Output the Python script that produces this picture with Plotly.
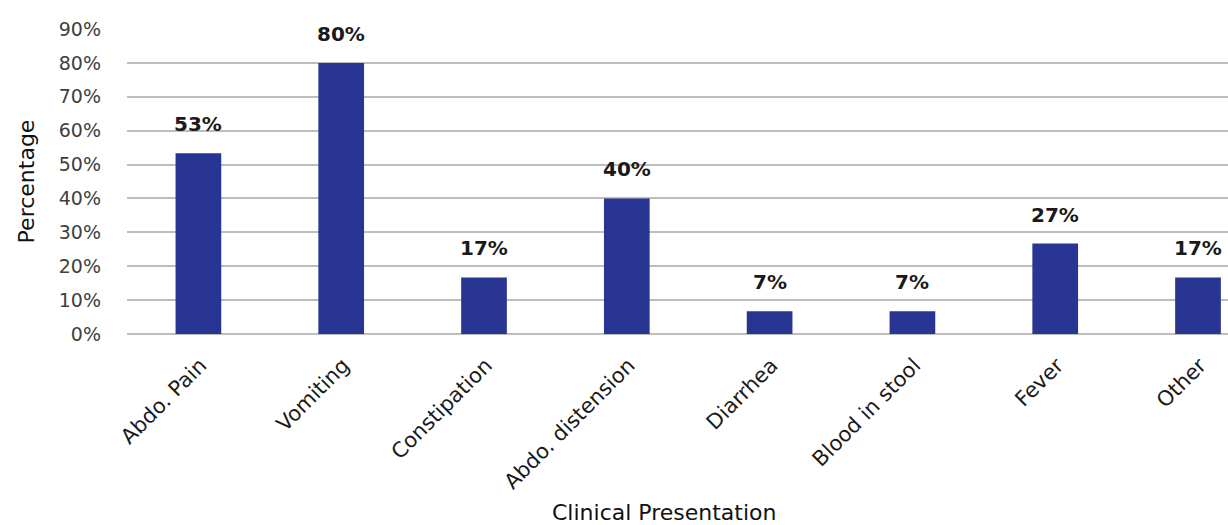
import plotly.graph_objects as go

categories = ["Abdo. Pain", "Vomiting", "Constipation", "Abdo. distension",
              "Diarrhea", "Blood in stool", "Fever", "Other"]
values = [0.533, 0.80, 0.167, 0.40, 0.067, 0.067, 0.267, 0.167]
labels = ["53%", "80%", "17%", "40%", "7%", "7%", "27%", "17%"]
y_ticks = [0, 0.1, 0.2, 0.3, 0.4, 0.5, 0.6, 0.7, 0.8, 0.9]

FONT = "'DejaVu Sans', sans-serif"

fig = go.Figure()
fig.add_trace(go.Bar(
    x=categories, y=values, width=0.32,
    marker=dict(color="#283593", line=dict(width=0)),
    hoverinfo="skip",
))

for c, v, t in zip(categories, values, labels):
    fig.add_annotation(x=c, y=v, text=t, showarrow=False, yanchor="bottom",
                       yshift=15, font=dict(size=20, color="#1a1a1a", family=FONT,
                                            weight="bold"))

fig.add_annotation(x=0.488, y=-0.584, xref="paper", yref="paper", yanchor="middle",
                   text="Clinical Presentation", showarrow=False,
                   font=dict(size=22, color="#111111", family=FONT))

fig.update_layout(
    width=1228, height=525,
    margin=dict(l=127, r=0, t=29, b=191),
    paper_bgcolor="white", plot_bgcolor="white",
    showlegend=False,
    font=dict(family=FONT),
    xaxis=dict(range=[-0.5, 7.21], tickangle=-45, showgrid=False,
               showline=False, ticks="", ticklabelshift=2, ticklabelstandoff=14,
               tickfont=dict(size=21, color="#1a1a1a", family=FONT)),
    yaxis=dict(range=[0, 0.9], tickvals=y_ticks, tickformat=".0%",
               showgrid=True, gridcolor="#BDBDBD", gridwidth=2,
               zeroline=True, zerolinecolor="#BDBDBD", zerolinewidth=2,
               showline=False, ticks="", ticklabelstandoff=25,
               tickfont=dict(size=19, color="#404040", family=FONT),
               title=dict(text="Percentage", standoff=18,
                          font=dict(size=22, color="#111111", family=FONT))),
)

fig.write_html("out.html")
